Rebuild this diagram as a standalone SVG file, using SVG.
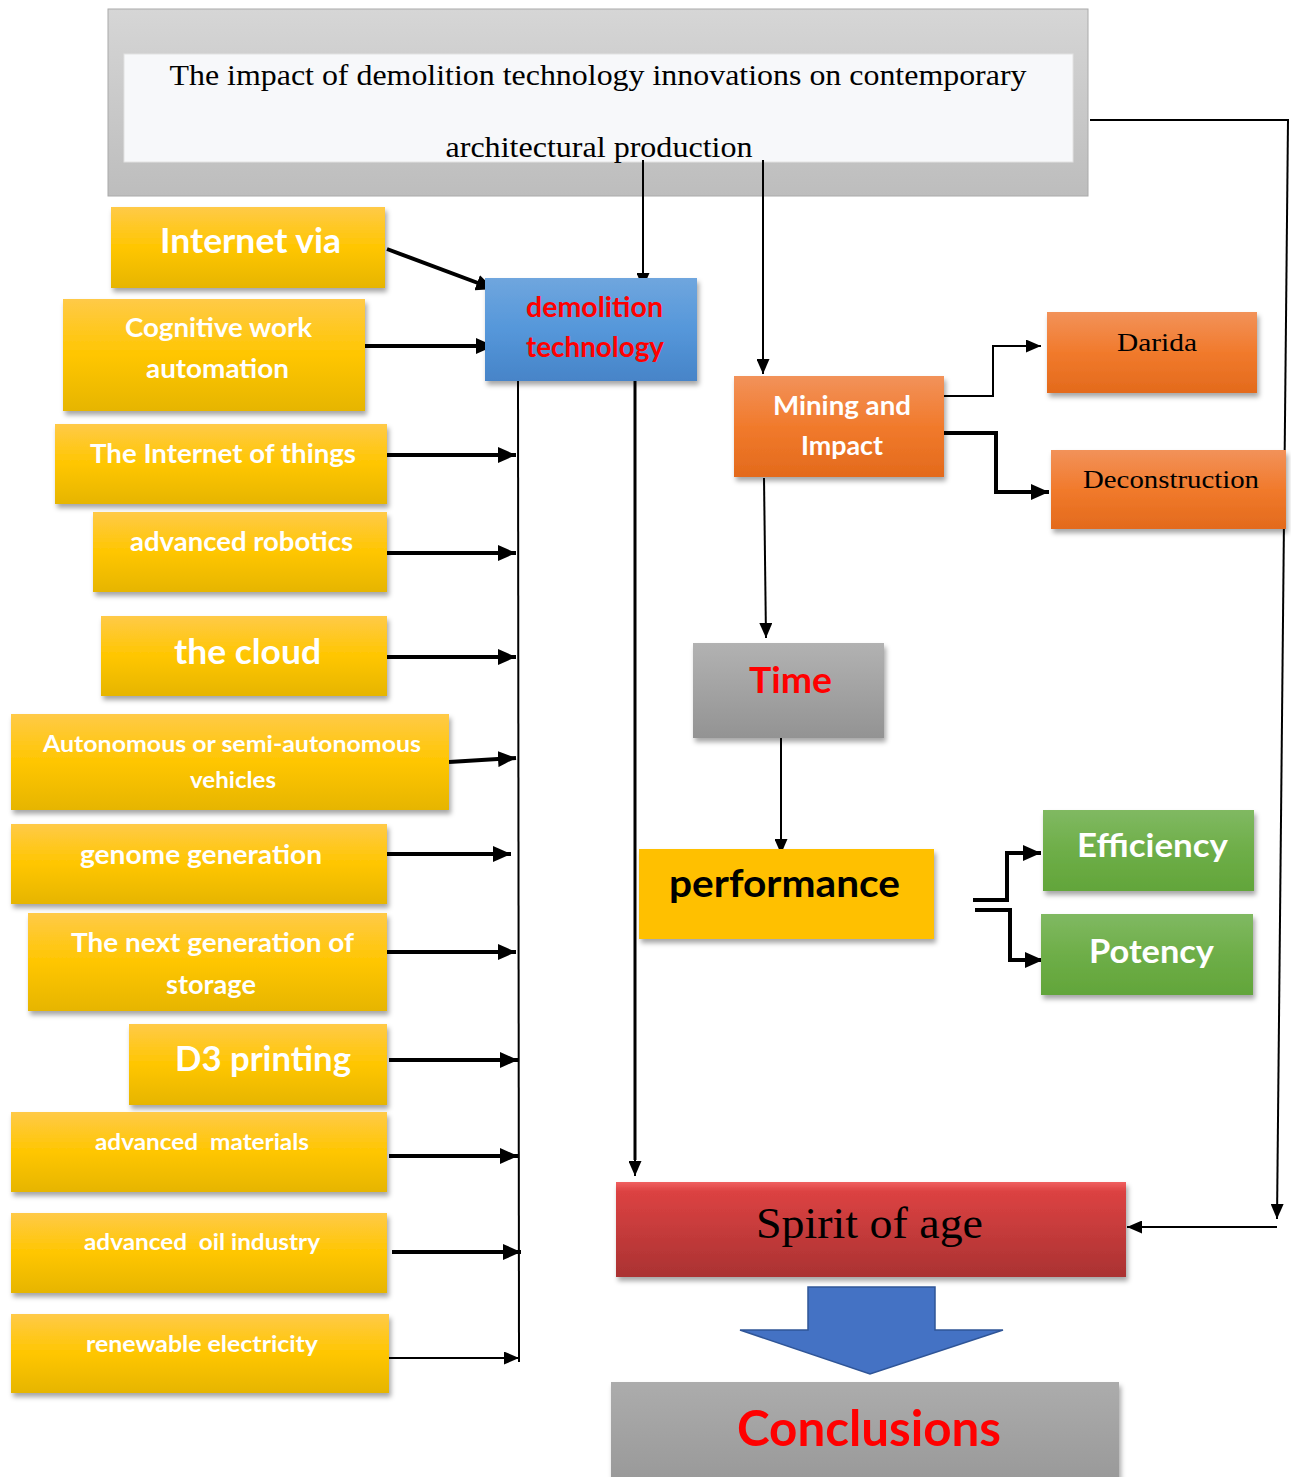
<svg xmlns="http://www.w3.org/2000/svg" width="1291" height="1477" viewBox="0 0 1291 1477">
<defs>
<linearGradient id="gTitle" x1="0" y1="0" x2="0" y2="1"><stop offset="0" stop-color="#d6d6d6"/><stop offset="1" stop-color="#bdbdbd"/></linearGradient>
<linearGradient id="gYel" x1="0" y1="0" x2="0" y2="1"><stop offset="0" stop-color="#ffca48"/><stop offset="0.5" stop-color="#ffc600"/><stop offset="1" stop-color="#e6b500"/></linearGradient>
<linearGradient id="gBlue" x1="0" y1="0" x2="0" y2="1"><stop offset="0" stop-color="#6fa6de"/><stop offset="0.5" stop-color="#5597da"/><stop offset="1" stop-color="#4784c8"/></linearGradient>
<linearGradient id="gOr" x1="0" y1="0" x2="0" y2="1"><stop offset="0" stop-color="#f2925a"/><stop offset="0.5" stop-color="#f17a2c"/><stop offset="1" stop-color="#e36a1c"/></linearGradient>
<linearGradient id="gGray" x1="0" y1="0" x2="0" y2="1"><stop offset="0" stop-color="#b2b2b2"/><stop offset="1" stop-color="#939393"/></linearGradient>
<linearGradient id="gGreen" x1="0" y1="0" x2="0" y2="1"><stop offset="0" stop-color="#80b962"/><stop offset="0.5" stop-color="#6eae48"/><stop offset="1" stop-color="#62a53a"/></linearGradient>
<linearGradient id="gRed" x1="0" y1="0" x2="0" y2="1"><stop offset="0" stop-color="#f06060"/><stop offset="0.1" stop-color="#dc4242"/><stop offset="1" stop-color="#aa3232"/></linearGradient>
<linearGradient id="gConc" x1="0" y1="0" x2="0" y2="1"><stop offset="0" stop-color="#acacac"/><stop offset="1" stop-color="#999999"/></linearGradient>
<filter id="sh" x="-5%" y="-10%" width="112%" height="130%"><feDropShadow dx="2" dy="4" stdDeviation="2.5" flood-color="#000" flood-opacity="0.35"/></filter>
<marker id="ah" markerUnits="userSpaceOnUse" markerWidth="18" markerHeight="16" refX="18" refY="8" orient="auto"><path d="M0,0 L18,8 L0,16 z" fill="#000"/></marker>
<marker id="as" markerUnits="userSpaceOnUse" markerWidth="15" markerHeight="13" refX="15" refY="6.5" orient="auto"><path d="M0,0 L15,6.5 L0,13 z" fill="#000"/></marker>
<style>
.yel{fill:url(#gYel);filter:url(#sh)}
.wt{fill:#fff;font-family:Lato,"Liberation Sans",sans-serif;font-weight:bold;text-anchor:middle}
.ser{fill:#000;font-family:"Liberation Serif","DejaVu Serif",serif;text-anchor:middle}
.thick{stroke:#000;stroke-width:4;fill:none;marker-end:url(#ah)}
.thin{stroke:#000;stroke-width:2;fill:none;marker-end:url(#as)}
.plain{stroke:#000;stroke-width:2;fill:none}
</style>
</defs>
<rect width="1291" height="1477" fill="#fff"/>

<g id="title">
<rect x="108" y="9" width="980" height="187" fill="url(#gTitle)" stroke="#aaa" stroke-width="1"/>
<rect x="124" y="54" width="949" height="108" fill="#f7f8fa" stroke="#e2e2e2" stroke-width="1"/>
<text class="ser" x="598" y="85" font-size="30" textLength="857" lengthAdjust="spacingAndGlyphs">The impact of demolition technology innovations on contemporary</text>
<text class="ser" x="599" y="157" font-size="30" textLength="307" lengthAdjust="spacingAndGlyphs">architectural production</text>
</g>

<g id="connectors">
<line class="thin" x1="643" y1="160" x2="643" y2="288"/>
<line class="thin" x1="763" y1="160" x2="763" y2="374"/>
<polyline class="plain" points="1090,120 1289,120"/>
<line class="thin" x1="1288" y1="120" x2="1277" y2="1219"/>
<line class="thin" x1="1277" y1="1227" x2="1127" y2="1227"/>
<line class="thick" x1="387" y1="249" x2="494" y2="289"/>
<line class="thick" x1="363" y1="346" x2="494" y2="346"/>
<line class="thick" x1="387" y1="455" x2="516" y2="455"/>
<line class="thick" x1="387" y1="553" x2="516" y2="553"/>
<line class="thick" x1="387" y1="657" x2="516" y2="657"/>
<line class="thick" x1="449" y1="762" x2="516" y2="758"/>
<line class="thick" x1="381" y1="854" x2="511" y2="854"/>
<line class="thick" x1="387" y1="952" x2="516" y2="952"/>
<line class="thick" x1="389" y1="1060" x2="518" y2="1060"/>
<line class="thick" x1="389" y1="1156" x2="518" y2="1156"/>
<line class="thick" x1="392" y1="1252" x2="521" y2="1252"/>
<line class="thin" x1="389" y1="1358" x2="519" y2="1358"/>
<line class="plain" x1="518" y1="375" x2="519" y2="1362"/>
<line stroke="#000" stroke-width="3" x1="635" y1="375" x2="635" y2="1160"/>
<line class="thin" x1="635" y1="1150" x2="635" y2="1176" stroke-width="3"/>
<polyline class="thin" points="944,396 993,396 993,346 1041,346"/>
<polyline class="thick" points="944,433 996,433 996,492 1049,492"/>
<line class="thin" x1="764" y1="478" x2="766" y2="638"/>
<line class="thin" x1="781" y1="728" x2="781" y2="854"/>
<polyline class="thick" points="973,900 1007,900 1007,853 1041,853"/>
<polyline class="thick" points="975,910 1010,910 1010,960 1043,960"/>
</g>

<g id="demolition">
<rect x="485" y="278" width="212" height="103" fill="url(#gBlue)" filter="url(#sh)"/>
<text class="wt" x="594.5" y="317" font-size="28" style="fill:#ff0000" textLength="137" lengthAdjust="spacingAndGlyphs">demolition</text>
<text class="wt" x="595" y="357" font-size="28" style="fill:#ff0000" textLength="138" lengthAdjust="spacingAndGlyphs">technology</text>
</g>

<g id="n-internet-via"><rect class="yel" x="111" y="207" width="274" height="81"/><text class="wt" x="250.5" y="253" font-size="34" textLength="181" lengthAdjust="spacingAndGlyphs">Internet via</text></g>
<g id="n-cognitive"><rect class="yel" x="63" y="299" width="302" height="112"/><text class="wt" x="218.5" y="337" font-size="27.5" textLength="187" lengthAdjust="spacingAndGlyphs">Cognitive work</text><text class="wt" x="217.5" y="378" font-size="27.5" textLength="143" lengthAdjust="spacingAndGlyphs">automation</text></g>
<g id="n-iot"><rect class="yel" x="55" y="424" width="332" height="80"/><text class="wt" x="223" y="463" font-size="27.5" textLength="266" lengthAdjust="spacingAndGlyphs">The Internet of things</text></g>
<g id="n-robotics"><rect class="yel" x="93" y="512" width="294" height="80"/><text class="wt" x="241.5" y="551" font-size="27.5" textLength="223" lengthAdjust="spacingAndGlyphs">advanced robotics</text></g>
<g id="n-cloud"><rect class="yel" x="101" y="616" width="286" height="80"/><text class="wt" x="247.5" y="664" font-size="35" textLength="147" lengthAdjust="spacingAndGlyphs">the cloud</text></g>
<g id="n-autonomous"><rect class="yel" x="11" y="714" width="438" height="96"/><text class="wt" x="232" y="752" font-size="23.5" textLength="378" lengthAdjust="spacingAndGlyphs">Autonomous or semi-autonomous</text><text class="wt" x="233" y="788" font-size="23.5" textLength="86" lengthAdjust="spacingAndGlyphs">vehicles</text></g>
<g id="n-genome"><rect class="yel" x="11" y="824" width="376" height="80"/><text class="wt" x="201" y="864" font-size="27.5" textLength="242" lengthAdjust="spacingAndGlyphs">genome generation</text></g>
<g id="n-storage"><rect class="yel" x="28" y="913" width="359" height="98"/><text class="wt" x="212.5" y="952" font-size="27.5" textLength="283" lengthAdjust="spacingAndGlyphs">The next generation of</text><text class="wt" x="211" y="994" font-size="27.5" textLength="90" lengthAdjust="spacingAndGlyphs">storage</text></g>
<g id="n-d3"><rect class="yel" x="129" y="1024" width="258" height="81"/><text class="wt" x="263" y="1071" font-size="35" textLength="176" lengthAdjust="spacingAndGlyphs">D3 printing</text></g>
<g id="n-materials"><rect class="yel" x="11" y="1112" width="376" height="80"/><text class="wt" x="202" y="1150" font-size="23.5" textLength="214" lengthAdjust="spacingAndGlyphs" xml:space="preserve">advanced  materials</text></g>
<g id="n-oil"><rect class="yel" x="11" y="1213" width="376" height="80"/><text class="wt" x="202" y="1250" font-size="23.5" textLength="236" lengthAdjust="spacingAndGlyphs" xml:space="preserve">advanced  oil industry</text></g>
<g id="n-renewable"><rect class="yel" x="11" y="1314" width="378" height="79"/><text class="wt" x="202" y="1352" font-size="23.5" textLength="232" lengthAdjust="spacingAndGlyphs">renewable electricity</text></g>

<g id="mining"><rect x="734" y="376" width="210" height="101" fill="url(#gOr)" filter="url(#sh)"/><text class="wt" x="842" y="415" font-size="27.5" textLength="138" lengthAdjust="spacingAndGlyphs">Mining and</text><text class="wt" x="842" y="455" font-size="27.5" textLength="82" lengthAdjust="spacingAndGlyphs">Impact</text></g>
<g id="darida"><rect x="1047" y="312" width="210" height="81" fill="url(#gOr)" filter="url(#sh)"/><text class="ser" x="1157" y="351" font-size="26" textLength="80" lengthAdjust="spacingAndGlyphs">Darida</text></g>
<g id="deconstruction"><rect x="1051" y="450" width="235" height="79" fill="url(#gOr)" filter="url(#sh)"/><text class="ser" x="1171" y="488" font-size="26" textLength="176" lengthAdjust="spacingAndGlyphs">Deconstruction</text></g>

<g id="time"><rect x="693" y="643" width="191" height="95" fill="url(#gGray)" filter="url(#sh)"/><text class="wt" x="790.5" y="693" font-size="36" style="fill:#ff0000" textLength="83" lengthAdjust="spacingAndGlyphs">Time</text></g>
<g id="performance"><rect x="639" y="849" width="295" height="90" fill="#ffc000" filter="url(#sh)"/><text class="wt" x="784.5" y="897" font-size="38" style="fill:#000" textLength="231" lengthAdjust="spacingAndGlyphs">performance</text></g>
<g id="efficiency"><rect x="1043" y="810" width="211" height="81" fill="url(#gGreen)" filter="url(#sh)"/><text class="wt" x="1152.5" y="857" font-size="33" textLength="151" lengthAdjust="spacingAndGlyphs">Efficiency</text></g>
<g id="potency"><rect x="1041" y="914" width="212" height="81" fill="url(#gGreen)" filter="url(#sh)"/><text class="wt" x="1151.5" y="963" font-size="33" textLength="125" lengthAdjust="spacingAndGlyphs">Potency</text></g>

<g id="spirit"><rect x="616" y="1182" width="510" height="95" fill="url(#gRed)" filter="url(#sh)"/><text class="ser" x="869.5" y="1238" font-size="44" textLength="227" lengthAdjust="spacingAndGlyphs">Spirit of age</text></g>

<g id="big-arrow"><polygon points="808,1287 935,1287 935,1330 1003,1330 870,1374 740,1330 808,1330" fill="#4472c4" stroke="#2f5597" stroke-width="1.5"/></g>

<g id="conclusions"><rect x="611" y="1382" width="508" height="100" fill="url(#gConc)" filter="url(#sh)"/><text class="wt" x="869" y="1446" font-size="49" style="fill:#ff0000" textLength="264" lengthAdjust="spacingAndGlyphs">Conclusions</text></g>
</svg>
